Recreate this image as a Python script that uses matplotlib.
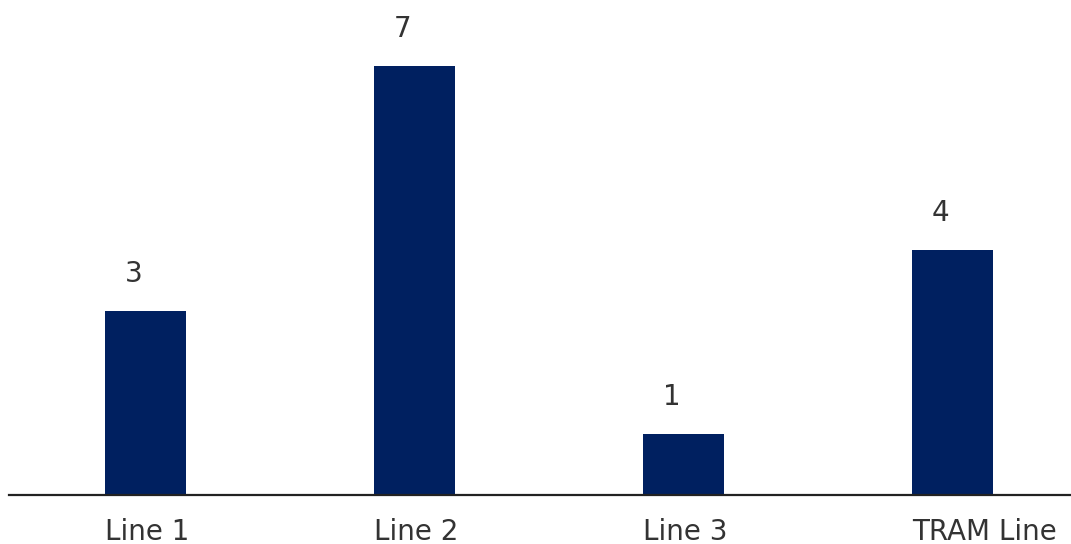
import matplotlib
matplotlib.use("Agg")
import matplotlib.pyplot as plt

categories = ["Line 1", "Line 2", "Line 3", "TRAM Line"]
values = [3, 7, 1, 4]

bar_color = "#002060"
text_color = "#333333"

fig = plt.figure(figsize=(10.71, 5.44), dpi=100)
ax = fig.add_axes([9 / 1071, 1 - 495 / 544, 1062 / 1071, 495 / 544])

x = list(range(len(categories)))
width = 0.30
bars = ax.bar(x, values, width=width, color=bar_color, zorder=2)

ax.set_xlim(-0.507, 3.44)
ax.set_ylim(0, 8.075)

for side in ("top", "right", "left"):
    ax.spines[side].set_visible(False)
ax.spines["bottom"].set_color("#222222")
ax.spines["bottom"].set_linewidth(1.6)
ax.set_xticks([])
ax.set_yticks([])

# value labels sit above each bar, nudged a little to the left
for xi, v in zip(x, values):
    ax.annotate(str(v), xy=(xi, v), xytext=(-12, 29), textcoords="offset pixels",
                ha="center", va="baseline", fontsize=20, color=text_color)

# category names start at the left edge of their bar
for xi, name in zip(x, categories):
    ax.text(xi - width / 2, -45 / 495, name, transform=ax.get_xaxis_transform(),
            ha="left", va="baseline", fontsize=20, color=text_color, clip_on=False)

fig.savefig("out.png", dpi=100, facecolor="white")
